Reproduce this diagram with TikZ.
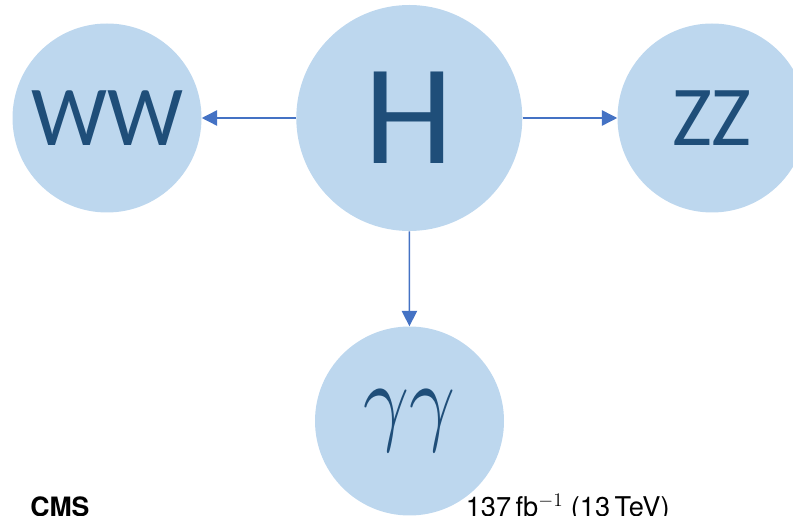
\documentclass[tikz,border=0pt]{standalone}
\usepackage{graphicx}
\usepackage{fontspec}
\setmainfont{Carlito}
\newfontfamily\helv{TeX Gyre Heros}
\usetikzlibrary{arrows.meta}
\definecolor{bubble}{HTML}{BDD7EE}
\definecolor{ink}{HTML}{1F4E79}
\definecolor{arrowblue}{HTML}{4472C4}
\begin{document}
\begin{tikzpicture}[x=0.75pt,y=-0.75pt,
  bub/.style={circle,fill=bubble,draw=none,inner sep=0pt,text=ink,minimum size=141.75pt},
  arr/.style={draw=arrowblue,line width=1.1pt,-{Triangle[length=11.5pt,width=11.5pt]}}]
\useasboundingbox (0,0) rectangle (793,516);
\node[bub] (WW) at (107,118) {\fontsize{64}{64}\selectfont\raisebox{-1pt}{WW}};
\node[bub,minimum size=169.5pt] (H) at (409.3,118) {\fontsize{107}{107}\selectfont\raisebox{-6pt}{H}};
\node[bub] (ZZ) at (712,118) {\fontsize{64}{64}\selectfont\raisebox{-1pt}{ZZ}};
\node[bub] (gg) at (409.5,421) {\raisebox{2pt}{\scalebox{6.0}[7.4]{$\gamma\gamma$}}};
\draw[arr] (H) -- (WW);
\draw[arr] (H) -- (ZZ);
\draw[arr] (H) -- (gg);
\node[anchor=base west,inner sep=0pt,font=\helv\bfseries\fontsize{20}{20}\selectfont] (cms) at (30,516.5) {CMS};
\node[anchor=base west,inner sep=0pt,font=\helv\fontsize{20.4}{21}\selectfont] (lumi) at (465.5,516.5) {137\,fb$^{-1}$ (13\,TeV)};
\end{tikzpicture}
\end{document}
